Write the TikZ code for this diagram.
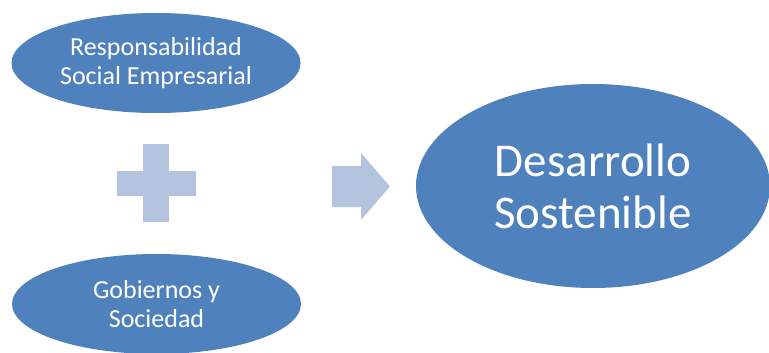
\documentclass[tikz,border=0pt]{standalone}
\usepackage{fontspec}
\setmainfont{Carlito}
\usetikzlibrary{shapes.geometric}
\definecolor{ovalblue}{RGB}{79,129,189}
\definecolor{signblue}{RGB}{180,195,222}
\tikzset{
	oval/.style={ellipse, fill=ovalblue, text=white, inner sep=0pt, align=center},
	small oval/.style={oval, minimum width=289pt, minimum height=100pt, font=\fontsize{26}{29}\selectfont},
	big oval/.style={oval, minimum width=354pt, minimum height=204pt, font=\fontsize{47}{52}\selectfont}
}

\begin{document}
\begin{tikzpicture}[x=1pt, y=-1pt]
		%%%%% START %%%%%
		
		\useasboundingbox (0, 0) rectangle (769, 353);
		
		\node[small oval] (rse) at (156, 63) {Responsabilidad\\Social Empresarial};
		\node[small oval] (gob) at (156.5, 304) {Gobiernos y\\Sociedad};
		\node[big oval] (des) at (593, 186) {Desarrollo\\Sostenible};
		
		% plus sign
		\fill[signblue] (143, 144) rectangle (169, 222);
		\fill[signblue] (117, 171) rectangle (196, 196);
		
		% arrow
		\fill[signblue] (332, 166) -- (361, 166) -- (361, 153) -- (390, 186.5)
			-- (361, 220) -- (361, 207) -- (332, 207) -- cycle;
		
		%%%%% END %%%%%
	\end{tikzpicture}
\end{document}
